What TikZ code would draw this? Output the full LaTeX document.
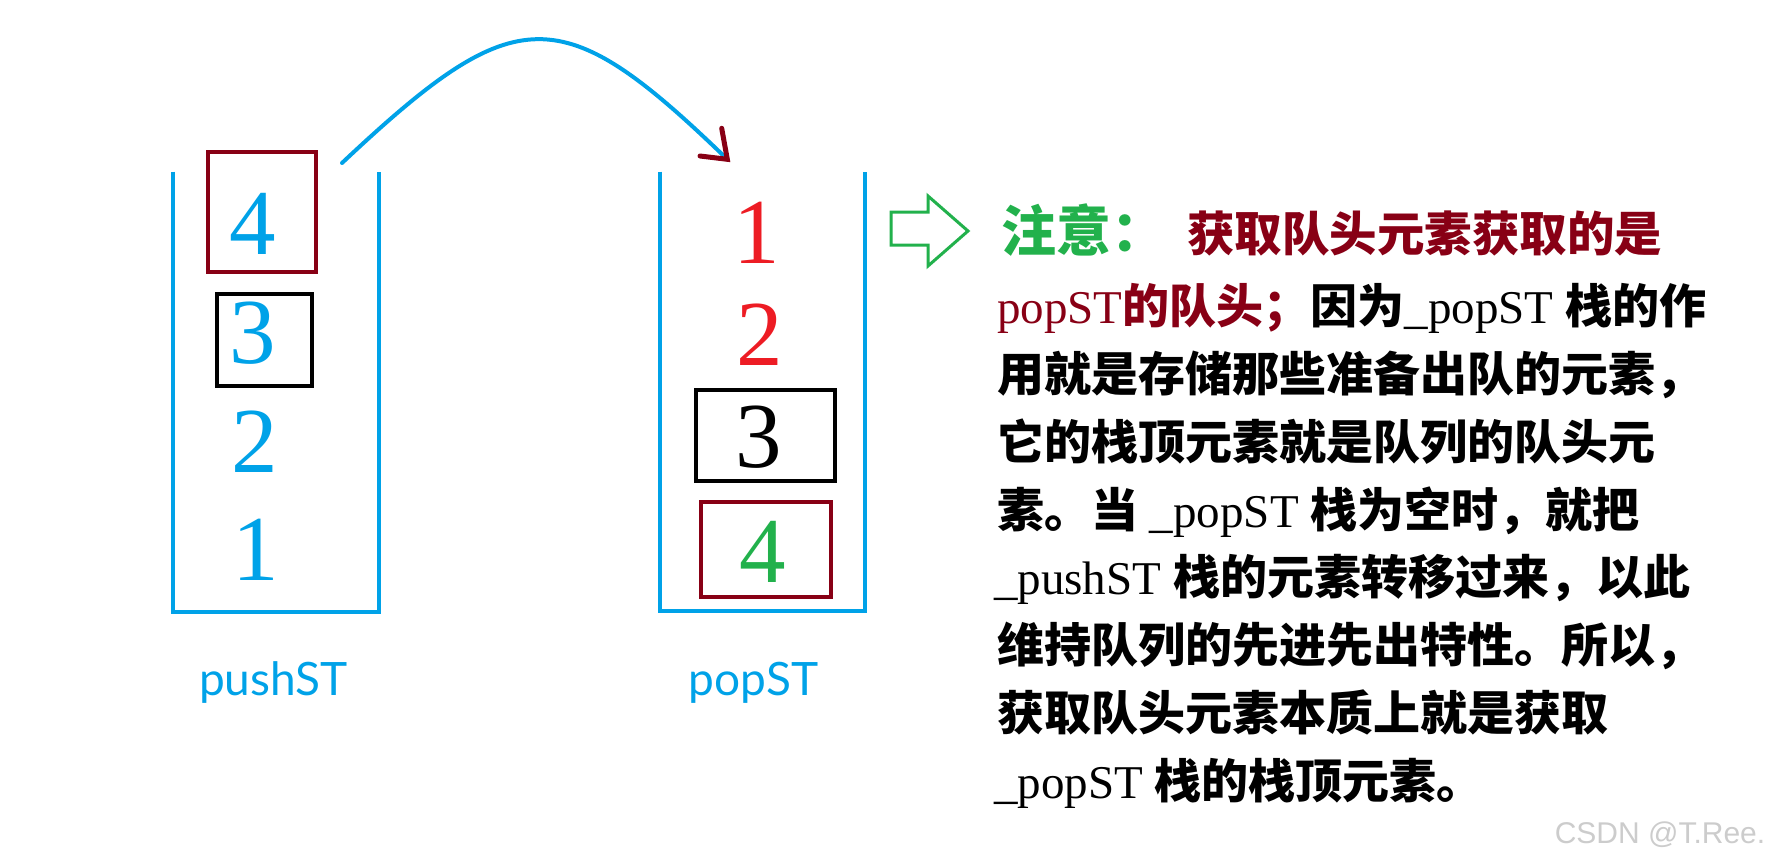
\documentclass[tikz,border=0pt]{standalone}
\usepackage{fontspec}
\setmainfont{Liberation Serif}
\newfontfamily\cjk{Noto Sans CJK SC}
\newfontfamily\labelfont{Lato}
\newfontfamily\wmfont{Liberation Sans}
\definecolor{pblue}{HTML}{00A2E8}
\definecolor{dkred}{HTML}{880015}
\definecolor{pred}{HTML}{ED1C24}
\definecolor{pgreen}{HTML}{22B14C}
\newcommand\zh[1]{{\cjk\bfseries #1}}
\tikzset{
  container/.style={draw=pblue, line width=4pt},
  digit/.style={inner sep=0pt, font=\fontsize{93}{93}\selectfont},
  boxred/.style={draw=dkred, line width=4pt, inner sep=0pt},
  boxblack/.style={draw=black, line width=4pt, inner sep=0pt},
  stacklabel/.style={inner sep=0pt, anchor=base, text=pblue, font=\labelfont\fontsize{46}{46}\selectfont},
  bodytext/.style={inner sep=0pt, anchor=base west, font=\fontsize{47}{47}\selectfont},
  transfer/.style={draw=pblue, line width=4pt, line cap=round},
  headstroke/.style={draw=dkred, line width=5pt, line cap=round},
  hint/.style={draw=pgreen, line width=3pt, line join=miter},
}
\begin{document}
\begin{tikzpicture}[x=1pt,y=-1pt]
\useasboundingbox (0,0) rectangle (1780,864);

% containers
\draw[container] (173.3,171.7) -- (173.3,612) -- (378.7,612) -- (378.7,171.7);
\draw[container] (660.3,171.7) -- (660.3,611) -- (865.3,611) -- (865.3,171.7);

% left stack
\node[boxred, minimum width=108.6pt, minimum height=120pt] (lb4) at (262,212.3) {};
\node[boxblack, minimum width=95.6pt, minimum height=91.7pt] (lb3) at (264.5,339.8) {};
\node[digit, text=pblue] (l4) at (253,223.5) {4};
\node[digit, text=pblue] (l3) at (253,333.5) {3};
\node[digit, text=pblue] (l2) at (255,442) {2};
\node[digit, text=pblue] (l1) at (256,550) {1};

% right stack
\node[boxblack, minimum width=139.2pt, minimum height=91.4pt] (rb3) at (765.4,435.5) {};
\node[boxred, minimum width=129.9pt, minimum height=95pt] (rb4) at (765.7,549) {};
\node[digit, text=pred] (r1) at (757,232.5) {1};
\node[digit, text=pred] (r2) at (760,334.5) {2};
\node[digit, text=black] (r3) at (759,437.5) {3};
\node[digit, text=pgreen] (r4) at (763,552) {4};

% labels
\node[stacklabel] (pushlbl) at (273.5,695) {pushST};
\node[stacklabel] (poplbl) at (753.5,695) {popST};

% transfer arrow
\coordinate (cs) at (342,163);
\coordinate (tip) at (727.3,159.3);
\coordinate (arm1) at (721.7,128.3);
\coordinate (arm2) at (700,156);
\draw[transfer] (cs) .. controls (517,-1.5) and (561,-1.5) .. (tip);
\draw[headstroke] (arm1) -- (tip) -- (arm2);

% green hint arrow
\draw[hint] (891,212) -- (928,212) -- (928,196) -- (968,231) -- (928,266) -- (928,245) -- (891,245) -- cycle;

% title
\node[inner sep=0pt, anchor=base west, text=pgreen, font=\fontsize{55}{55}\selectfont] (note) at (1001,251) {\zh{注意：}};
\node[inner sep=0pt, anchor=base west, text=dkred, font=\fontsize{47.5}{47.5}\selectfont] (title) at (1187,251) {\zh{获取队头元素获取的是}};

% body
\node[bodytext] (t2) at (997,323) {{\color{dkred}popST\zh{的队头；}}\zh{因为}\_popST \zh{栈的作}};
\node[bodytext] (t3) at (997,391) {\zh{用就是存储那些准备出队的元素，}};
\node[bodytext] (t4) at (997,459) {\zh{它的栈顶元素就是队列的队头元}};
\node[bodytext] (t5) at (997,527) {\zh{素。当} \_popST \zh{栈为空时，就把}};
\node[bodytext] (t6) at (994,594) {\_pushST \zh{栈的元素转移过来，以此}};
\node[bodytext] (t7) at (997,662) {\zh{维持队列的先进先出特性。所以，}};
\node[bodytext] (t8) at (997,730) {\zh{获取队头元素本质上就是获取}};
\node[bodytext] (t9) at (994,798) {\_popST \zh{栈的栈顶元素。}};

% watermark
\node[inner sep=0pt, anchor=base, text=gray!40, font=\wmfont\fontsize{30}{30}\selectfont] (wm) at (1660,843) {CSDN @T.Ree.};
\end{tikzpicture}
\end{document}
